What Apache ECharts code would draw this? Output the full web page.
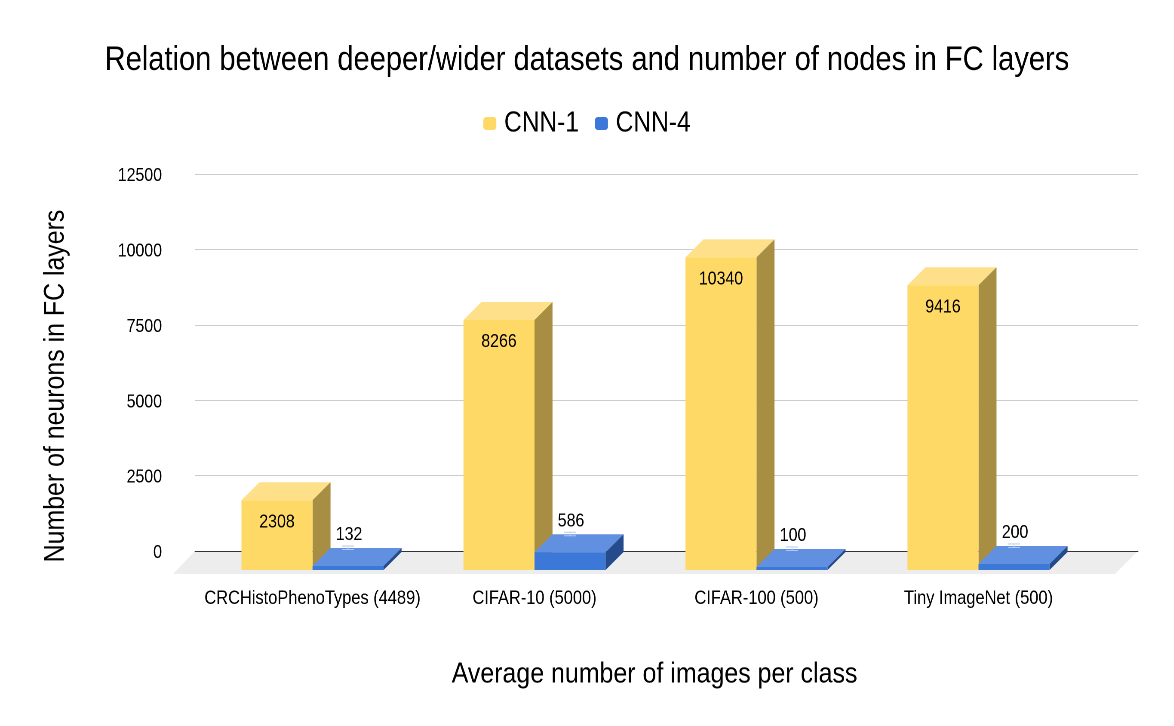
<!DOCTYPE html>
<html><head><meta charset="utf-8">
<style>
html,body{margin:0;padding:0;background:#fff;overflow:hidden}
#w{width:1174px;height:726px;overflow:hidden;position:relative}
#c{height:726px;transform-origin:0 0;position:absolute;left:0;top:0}
</style>
<script src="https://cdn.jsdelivr.net/npm/echarts@6/dist/echarts.min.js"></script>
</head><body><div id="w"><div id="c"></div></div>
<script>
const categories = ['CRCHistoPhenoTypes (4489)','CIFAR-10 (5000)','CIFAR-100 (500)','Tiny ImageNet (500)'];
const cnn1 = [2308, 8266, 10340, 9416];
const cnn4 = [132, 586, 100, 200];
const FONT = '"Liberation Sans",Arial,sans-serif';
// The reference's text is horizontally condensed, so the whole chart is laid out wider and squeezed.
const S = 0.86;
const sx = v => v / S;
const el = document.getElementById('c');
el.style.width = sx(1174) + 'px';
el.style.transform = 'scaleX(' + S + ')';
const DX = sx(18), DY = 18;
const palette = [
  {front:'#ffd966', top:'#ffe08a', side:'#a88e42'},
  {front:'#3c78d8', top:'#6290e0', side:'#254b8c'}
];
function poly(points, fill){ return {type:'polygon', shape:{points}, style:{fill}}; }
function barRenderer(idx){
  return function(params, api){
    const i = api.value(0), v = api.value(1);
    const p = api.coord([i, v]), base = api.coord([i, 0]);
    const w = api.size([1,0])[0] * 0.32;
    const l = idx === 0 ? p[0] - w : p[0], r = l + w;
    const t = p[1], b = base[1], c = palette[idx], children = [
      poly([[l,t],[r,t],[r+DX,t-DY],[l+DX,t-DY]], c.top),
      poly([[r,t],[r+DX,t-DY],[r+DX,b-DY],[r,b]], c.side),
      {type:'rect', shape:{x:l,y:t,width:w,height:b-t}, style:{fill:c.front}}
    ];
    const cx = (l + r) / 2;
    if (idx === 1) {
      const my = t - DY, hw = sx(6);
      [-2, 1.5].forEach(d => children.push({type:'line', shape:{x1:cx-hw,y1:my+d,x2:cx+hw,y2:my+d}, style:{stroke:'#b4cbf0',lineWidth:1}}));
      children.push({type:'line', shape:{x1:cx,y1:my-2,x2:cx,y2:my+1.5}, style:{stroke:'#c8d9f4',lineWidth:1}});
    }
    children.push({type:'text', style:{
      text:String(v), x:cx + (idx === 1 ? sx(1) : 0), y: idx === 0 ? t + 22 : t - DY - 13,
      fill:'#000', font:'18.5px '+FONT, textAlign:'center', textVerticalAlign:'middle'
    }});
    return {type:'group', children};
  };
}
const chart = echarts.init(el, null, {renderer:'canvas', devicePixelRatio:2});
chart.setOption({
  animation:false,
  backgroundColor:'#fff',
  title:{text:'Relation between deeper/wider datasets and number of nodes in FC layers',
    left:'center', top:38.5, textStyle:{fontFamily:FONT,fontSize:33.8,fontWeight:'normal',color:'#000'}},
  legend:{top:104, left:'center', itemWidth:sx(13), itemHeight:13, itemGap:sx(16), icon:'roundRect',
    data:['CNN-1','CNN-4'], textStyle:{fontFamily:FONT,fontSize:28.5,color:'#000',padding:[0,0,0,4]}},
  graphic:[{type:'text', x:sx(56), y:386, rotation:Math.PI/2, scaleX:0.754, silent:true,
    style:{text:'Number of neurons in FC layers', font:'33px '+FONT, fill:'#000', textAlign:'center', textVerticalAlign:'middle'}}],
  grid:[
    {left:sx(195), width:sx(943), top:174, height:377},
    {left:sx(201.5), width:sx(888), top:192, height:378},
    {left:sx(195), width:sx(943), top:176, height:377}
  ],
  xAxis:[
    {type:'value', gridIndex:0, min:0, max:1, axisLabel:{show:false}, axisTick:{show:false}, splitLine:{show:false},
     axisLine:{show:true, lineStyle:{color:'#333',width:1}}},
    {type:'category', gridIndex:1, data:categories, axisLine:{show:false}, axisTick:{show:false},
     axisLabel:{margin:19, interval:0, fontFamily:FONT, fontSize:19.1, color:'#000'},
     name:'Average number of images per class', nameLocation:'middle', nameGap:90,
     nameTextStyle:{fontFamily:FONT,fontSize:29,color:'#000',padding:[0,0,0,21]}},
    {type:'value', gridIndex:2, min:0, max:1, show:false}
  ],
  yAxis:[
    {type:'value', gridIndex:0, min:0, max:12500, interval:2500, axisLine:{show:false}, axisTick:{show:false},
     axisLabel:{show:false}, splitLine:{lineStyle:{color:'#cccccc',width:1}}},
    {type:'value', gridIndex:1, min:0, max:12500, show:false},
    {type:'value', gridIndex:2, min:0, max:12500, interval:2500, axisLine:{show:false}, axisTick:{show:false}, splitLine:{show:false},
     axisLabel:{margin:sx(33), fontFamily:FONT, fontSize:18.5, color:'#000', formatter:v=>String(v)}}
  ],
  series:[
    {type:'custom', name:'floor', xAxisIndex:0, yAxisIndex:0, z:-1, silent:true, clip:false, data:[[0,0]],
     renderItem:(params)=>{
       const g = params.coordSys, b = g.y + g.height, x0 = g.x, x1 = g.x + g.width;
       return poly([[x0,b],[x1,b],[x1-sx(23),b+23],[x0-sx(22),b+23]], '#ededed');
     }},
    {type:'custom', name:'CNN-1', xAxisIndex:1, yAxisIndex:1, z:3, clip:false, itemStyle:{color:palette[0].front},
     encode:{x:0,y:1}, data:cnn1.map((v,i)=>[i,v]), renderItem:barRenderer(0)},
    {type:'custom', name:'CNN-4', xAxisIndex:1, yAxisIndex:1, z:4, clip:false, itemStyle:{color:palette[1].front},
     encode:{x:0,y:1}, data:cnn4.map((v,i)=>[i,v]), renderItem:barRenderer(1)}
  ]
});
</script></body></html>
